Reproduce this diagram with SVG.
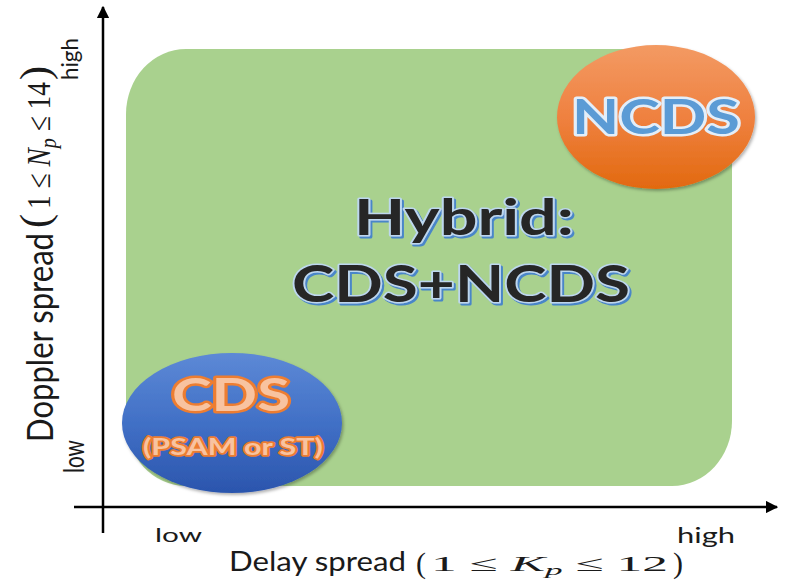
<svg xmlns="http://www.w3.org/2000/svg" width="785" height="585" viewBox="0 0 785 585">
  <defs>
    <linearGradient id="gOrange" x1="0" y1="0" x2="0" y2="1">
      <stop offset="0" stop-color="#f39a63"/>
      <stop offset="0.5" stop-color="#ef8140"/>
      <stop offset="1" stop-color="#e2690f"/>
    </linearGradient>
    <linearGradient id="gBlue" x1="0" y1="0" x2="0" y2="1">
      <stop offset="0" stop-color="#5d89d6"/>
      <stop offset="0.5" stop-color="#4170c6"/>
      <stop offset="1" stop-color="#2b55ad"/>
    </linearGradient>
    <filter id="shadow" x="-10%" y="-10%" width="125%" height="130%">
      <feDropShadow dx="1.5" dy="2" stdDeviation="1.5" flood-color="#000" flood-opacity="0.3"/>
    </filter>
    <filter id="hybfx" x="-5%" y="-10%" width="115%" height="130%">
      <feOffset in="SourceAlpha" dx="2" dy="2" result="off"/>
      <feFlood flood-color="#4a86c8"/>
      <feComposite in2="off" operator="in" result="sh"/>
      <feMerge>
        <feMergeNode in="sh"/>
        <feMergeNode in="SourceGraphic"/>
      </feMerge>
    </filter>
    <marker id="arrow" viewBox="0 0 10 10" refX="9" refY="5" markerWidth="5" markerHeight="5" orient="auto" markerUnits="strokeWidth">
      <path d="M0,0 L10,5 L0,10 Z" fill="#000"/>
    </marker>
    <style>
      .lbl { font-family: Lato, "Open Sans", "Liberation Sans", sans-serif; fill: #1a1a1a; }
      .math { font-family: "Liberation Serif", "DejaVu Serif", serif; fill: #1a1a1a; }
      .big { font-family: Lato, "Open Sans", "Liberation Sans", sans-serif; font-weight: 700; }
      .hyb { fill: #262626; stroke: #bdd7ee; stroke-width: 3; paint-order: stroke; stroke-linejoin: round; filter: url(#hybfx); }
      .ncds { fill: #5b9bd5; stroke: #e3eef9; stroke-width: 5; paint-order: stroke; stroke-linejoin: round; }
      .cds { fill: #f8c3a0; stroke: #ed7d31; stroke-width: 5; paint-order: stroke; stroke-linejoin: round; }
      .axis { stroke: #000; stroke-width: 2.5; fill: none; }
    </style>
  </defs>

  <rect width="785" height="585" fill="#fff"/>

  <g id="region-hybrid">
    <rect x="126" y="49" width="606" height="437" rx="60" ry="65" fill="#a9d18e"/>
    <text class="big hyb" x="464" y="235" font-size="49" text-anchor="middle" textLength="220" lengthAdjust="spacingAndGlyphs">Hybrid:</text>
    <text class="big hyb" x="461" y="302" font-size="51" text-anchor="middle" textLength="338" lengthAdjust="spacingAndGlyphs">CDS+NCDS</text>
  </g>

  <g id="node-ncds">
    <ellipse cx="656" cy="117" rx="99" ry="72" fill="url(#gOrange)" filter="url(#shadow)"/>
    <text class="big ncds" x="656" y="134" font-size="48" text-anchor="middle" textLength="168" lengthAdjust="spacingAndGlyphs">NCDS</text>
  </g>

  <g id="node-cds">
    <ellipse cx="232" cy="423" rx="110" ry="70" fill="url(#gBlue)" filter="url(#shadow)"/>
    <text class="big cds" x="231" y="411" font-size="46" text-anchor="middle" textLength="118" lengthAdjust="spacingAndGlyphs">CDS</text>
    <text class="big cds" x="233" y="455" font-size="22" text-anchor="middle" textLength="180" lengthAdjust="spacingAndGlyphs" style="stroke-width:3.5">(PSAM or ST)</text>
  </g>

  <g id="connectors">
    <line class="axis" x1="103" y1="533" x2="103" y2="7" marker-end="url(#arrow)"/>
    <line class="axis" x1="74" y1="507" x2="777" y2="507" marker-end="url(#arrow)"/>
  </g>

  <g id="axis-x-labels">
    <text class="lbl" x="155" y="542" font-size="20" textLength="47" lengthAdjust="spacingAndGlyphs">low</text>
    <text class="lbl" x="677" y="543" font-size="21" textLength="58" lengthAdjust="spacingAndGlyphs">high</text>
    <text class="lbl" x="229" y="571" font-size="26" textLength="177" lengthAdjust="spacingAndGlyphs">Delay spread</text>
    <text class="math" x="416" y="573" font-size="30">(</text>
    <text class="math" x="431" y="571" font-size="22" textLength="237" lengthAdjust="spacingAndGlyphs">1 ≤ <tspan font-style="italic">K</tspan><tspan font-style="italic" font-size="15" dy="4">p</tspan><tspan dy="-4"> ≤ 12</tspan></text>
    <text class="math" x="673" y="573" font-size="30">)</text>
  </g>

  <g id="axis-y-labels">
    <text class="lbl" transform="translate(84,473) rotate(-90)" font-size="28" textLength="33" lengthAdjust="spacingAndGlyphs">low</text>
    <text class="lbl" transform="translate(78,80) rotate(-90)" font-size="24" textLength="42" lengthAdjust="spacingAndGlyphs">high</text>
    <text class="lbl" transform="translate(53,442) rotate(-90)" font-size="37" textLength="209" lengthAdjust="spacingAndGlyphs">Doppler spread</text>
    <text class="math" transform="translate(49,228) rotate(-90)" font-size="42">(</text>
    <text class="math" transform="translate(50,209) rotate(-90)" font-size="33" textLength="127" lengthAdjust="spacingAndGlyphs">1 ≤ <tspan font-style="italic">N</tspan><tspan font-style="italic" font-size="24" dy="6">p</tspan><tspan dy="-6"> ≤ 14</tspan></text>
    <text class="math" transform="translate(49,80) rotate(-90)" font-size="42">)</text>
  </g>
</svg>
